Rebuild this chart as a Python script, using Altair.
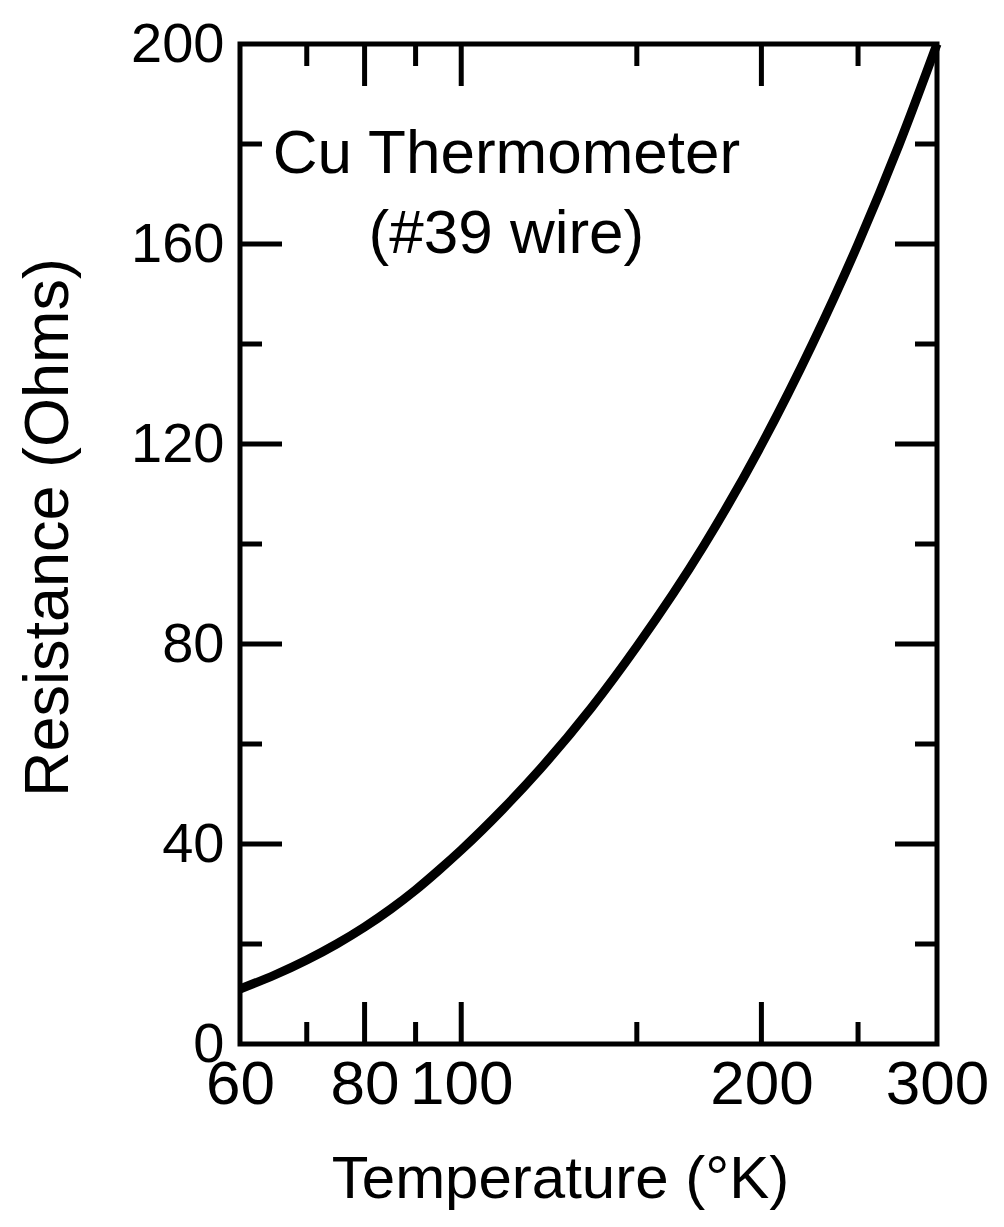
import altair as alt
import pandas as pd

# Curve data
temps = [60, 65, 70, 75, 80, 85, 90, 95, 100, 110, 120, 135, 150, 175, 200, 225, 250, 275, 300]
resist = [11.0, 13.8, 16.8, 20.0, 23.4, 27.0, 30.8, 34.8, 38.8, 46.9, 55.0, 67.2, 79.5,
          99.6, 119.8, 140.0, 160.0, 180.0, 200.0]

# Axis labels
x_labels = [60, 80, 100, 200, 300]
y_labels = [0, 40, 80, 120, 160, 200]

# Inward tick marks
x_major_ticks = [80, 100, 200]
x_minor_ticks = [70, 90, 150, 250]
y_major_ticks = [40, 80, 120, 160]
y_minor_ticks = [20, 60, 100, 140, 180]

# Annotation
note_text = ["Cu  Thermometer", "(#39 wire)"]
note_x = [111, 111]
note_y = [178, 162]

W, H = 697, 1000
MAJ, MIN = 42, 22
FONT = "Liberation Sans"

xscale = alt.Scale(type="log", domain=[60, 300], nice=False)
yscale = alt.Scale(domain=[0, 200], nice=False)

curve_df = pd.DataFrame({"T": temps, "R": resist})

xaxis = alt.Axis(values=x_labels, format="d", ticks=False, domain=False, grid=False,
                 labelFont=FONT, labelFontSize=62, labelColor="black",
                 labelPadding=10, labelOverlap=False, labelFlush=False,
                 title="Temperature (°K)", titleFont=FONT, titleFontSize=60,
                 titleFontWeight="normal", titleColor="black", titlePadding=35, titleX=320)
yaxis = alt.Axis(values=y_labels, ticks=False, domain=False, grid=False,
                 labelFont=FONT, labelFontSize=56, labelColor="black",
                 labelPadding=16, labelOverlap=False, labelFlush=False,
                 title="Resistance (Ohms)", titleFont=FONT, titleFontSize=63,
                 titleFontWeight="normal", titleColor="black", titleX=-160, titleY=483)

line = alt.Chart(curve_df).mark_line(color="black", strokeWidth=9, interpolate="monotone").encode(
    x=alt.X("T:Q", scale=xscale, axis=xaxis),
    y=alt.Y("R:Q", scale=yscale, axis=yaxis),
)

def xticks(vals, length):
    df = pd.DataFrame({"T": vals})
    base = alt.Chart(df).mark_rule(color="black", strokeWidth=5, strokeCap="butt")
    bottom = base.encode(x=alt.X("T:Q", scale=xscale), y=alt.value(H), y2=alt.value(H - length))
    top = base.encode(x=alt.X("T:Q", scale=xscale), y=alt.value(0), y2=alt.value(length))
    return [bottom, top]

def yticks(vals, length):
    df = pd.DataFrame({"R": vals})
    base = alt.Chart(df).mark_rule(color="black", strokeWidth=5, strokeCap="butt")
    left = base.encode(y=alt.Y("R:Q", scale=yscale), x=alt.value(0), x2=alt.value(length))
    right = base.encode(y=alt.Y("R:Q", scale=yscale), x=alt.value(W), x2=alt.value(W - length))
    return [left, right]

notes_df = pd.DataFrame({"T": note_x, "R": note_y, "txt": note_text})
notes = alt.Chart(notes_df).mark_text(font=FONT, fontSize=62, color="black",
                                      align="center", baseline="middle").encode(
    x=alt.X("T:Q", scale=xscale), y=alt.Y("R:Q", scale=yscale), text="txt:N")

layers = [line] + xticks(x_major_ticks, MAJ) + xticks(x_minor_ticks, MIN) \
    + yticks(y_major_ticks, MAJ) + yticks(y_minor_ticks, MIN) + [notes]

chart = alt.layer(*layers).properties(
    width=W, height=H,
    autosize=alt.AutoSizeParams(type="none"),
    padding={"left": 232, "top": 36, "right": 59, "bottom": 170},
    background="white",
).configure_view(stroke="black", strokeWidth=5)

chart.save("out.html", embed_options={"renderer": "svg", "actions": False})
